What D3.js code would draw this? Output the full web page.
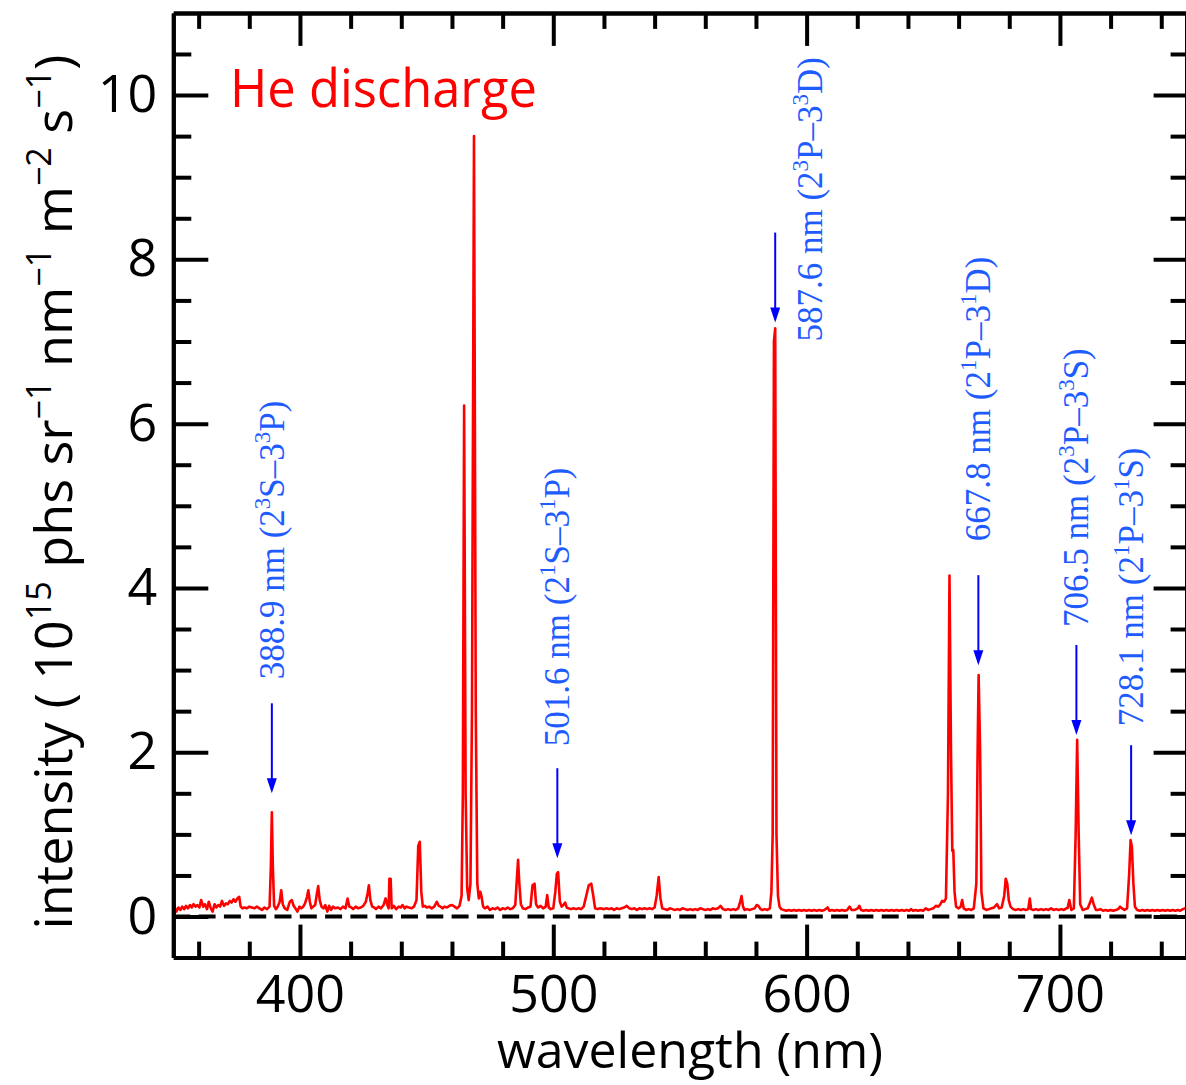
<!DOCTYPE html>
<html>
<head>
<meta charset="utf-8">
<script src="https://cdn.jsdelivr.net/npm/d3@7"></script>
<style>
  body { margin: 0; background: #fff; }
  svg { display: block; }
</style>
</head>
<body>
<div id="container"></div>
<script>
// Spectrum (nm, 10^15 phs sr^-1 nm^-1 m^-2 s^-1)
const wavelength = [
  350.0, 350.5, 351.2, 352.0, 352.8, 353.5, 354.3, 355.0, 355.8, 356.6, 357.3, 358.0, 358.8, 359.5, 360.3,
  361.0, 361.8, 362.5, 363.3, 364.0, 364.8, 365.5, 366.3, 367.0, 367.8, 368.5, 369.2, 370.0, 370.8, 371.5,
  372.3, 373.0, 373.8, 374.5, 375.3, 376.0, 376.6, 377.3, 378.0, 379.0, 380.0, 381.0, 382.0, 383.0, 384.0,
  385.0, 386.0, 387.0, 388.0, 388.5, 388.9, 389.3, 389.8, 390.5, 391.2, 392.0, 392.6, 393.2, 394.0, 395.0,
  396.0, 396.8, 397.5, 398.2, 399.0, 399.8, 400.5, 401.3, 402.0, 402.8, 403.3, 403.9, 404.5, 405.2, 406.0,
  406.7, 407.2, 407.8, 408.5, 409.3, 410.0, 410.8, 411.5, 412.3, 413.0, 414.0, 415.0, 416.0, 417.0, 418.0,
  418.8, 419.5, 420.3, 421.0, 422.0, 423.0, 424.0, 425.0, 426.0, 426.7, 427.2, 427.8, 428.5, 429.3, 430.0,
  431.0, 432.0, 433.0, 433.8, 434.5, 435.0, 435.3, 435.8, 436.2, 437.0, 438.0, 439.0, 439.8, 440.5, 441.3,
  442.0, 443.0, 444.0, 445.0, 446.0, 446.7, 447.3, 447.9, 448.5, 449.3, 450.0, 451.0, 452.0, 453.0, 454.0,
  454.8, 455.5, 456.3, 457.0, 458.0, 459.0, 460.0, 461.0, 462.0, 463.0, 463.8, 464.3, 464.8, 465.4, 466.0,
  466.6, 467.3, 467.9, 468.7, 469.4, 470.0, 470.6, 471.2, 471.7, 472.3, 473.0, 474.0, 475.0, 476.0, 477.0,
  478.0, 479.0, 480.0, 481.0, 482.0, 483.0, 484.0, 485.0, 485.6, 486.1, 486.6, 487.2, 488.0, 489.0, 490.0,
  491.0, 491.8, 492.6, 493.2, 494.0, 495.0, 496.0, 497.0, 497.6, 498.2, 499.0, 500.0, 500.8, 501.4, 501.9,
  502.6, 503.3, 504.0, 504.7, 505.3, 506.0, 507.0, 508.0, 509.0, 510.0, 511.0, 512.0, 513.0, 514.0, 515.0,
  515.8, 516.5, 517.5, 518.5, 520.0, 521.0, 522.0, 523.0, 524.0, 525.0, 526.0, 527.0, 528.0, 529.0, 530.0,
  531.0, 532.0, 533.0, 534.0, 535.0, 536.0, 537.0, 538.0, 539.0, 540.0, 540.8, 541.6, 542.3, 543.0, 544.0,
  545.0, 546.0, 547.0, 548.0, 549.0, 550.0, 551.0, 552.0, 553.0, 554.0, 555.0, 556.0, 557.0, 558.0, 559.0,
  560.0, 561.0, 562.0, 563.0, 564.0, 565.0, 566.0, 567.0, 568.0, 569.0, 570.0, 571.0, 572.0, 573.0, 573.8,
  574.3, 574.9, 575.5, 576.5, 577.5, 578.5, 579.5, 580.3, 581.0, 581.8, 582.5, 583.5, 584.5, 585.5, 586.1,
  586.6, 587.1, 587.6, 588.1, 588.7, 589.3, 590.0, 591.0, 592.0, 593.0, 594.0, 595.0, 596.0, 597.0, 598.0,
  599.0, 600.0, 601.0, 602.0, 603.0, 604.0, 605.0, 606.0, 607.0, 608.3, 609.0, 610.0, 611.0, 612.0, 613.0,
  614.0, 615.0, 616.0, 617.0, 617.8, 619.0, 620.2, 620.8, 621.5, 622.5, 623.5, 624.5, 625.5, 626.5, 627.5,
  628.5, 629.5, 630.5, 631.5, 632.5, 633.5, 634.5, 635.5, 636.5, 637.5, 638.5, 639.5, 640.5, 641.2, 642.0,
  643.0, 644.0, 645.0, 646.0, 647.0, 648.0, 649.0, 650.0, 651.0, 652.0, 652.8, 653.5, 654.3, 655.0, 655.8,
  656.4, 657.0, 657.5, 657.9, 658.4, 659.0, 660.0, 660.8, 661.4, 662.0, 663.0, 664.0, 665.0, 666.0, 667.0,
  667.5, 667.9, 668.5, 669.0, 669.8, 671.0, 672.0, 673.0, 674.0, 675.2, 676.0, 677.0, 678.0, 678.6, 679.2,
  679.8, 680.5, 681.5, 682.5, 683.5, 684.5, 685.5, 686.5, 687.5, 688.1, 688.6, 689.5, 690.5, 691.5, 692.5,
  693.5, 694.5, 695.5, 696.5, 697.5, 698.5, 699.5, 700.5, 701.5, 702.5, 703.0, 703.7, 704.5, 705.5, 706.2,
  706.8, 707.4, 708.0, 709.0, 710.0, 711.0, 712.0, 712.6, 713.3, 714.2, 715.0, 716.0, 717.0, 718.0, 719.0,
  720.0, 721.0, 722.0, 723.0, 723.7, 724.5, 725.5, 726.5, 727.3, 727.9, 728.4, 729.0, 729.6, 730.5, 731.5,
  732.5, 733.5, 734.5, 735.5, 736.5, 737.5, 738.5, 739.5, 740.5, 741.5, 742.5, 743.5, 744.5, 745.5, 746.5,
  747.5, 748.5, 749.5, 750.0
];
const intensity = [
  0.08, 0.12, 0.06, 0.11, 0.08, 0.12, 0.09, 0.13, 0.10, 0.14, 0.11, 0.15, 0.12, 0.14, 0.11,
  0.20, 0.12, 0.15, 0.09, 0.18, 0.10, 0.06, 0.15, 0.11, 0.14, 0.12, 0.19, 0.13, 0.16, 0.15,
  0.19, 0.17, 0.21, 0.18, 0.22, 0.24, 0.12, 0.10, 0.11, 0.10, 0.12, 0.11, 0.10, 0.12, 0.10,
  0.08, 0.11, 0.09, 0.12, 0.60, 1.27, 0.60, 0.13, 0.09, 0.12, 0.18, 0.32, 0.15, 0.10, 0.08,
  0.18, 0.20, 0.13, 0.10, 0.06, 0.12, 0.10, 0.12, 0.16, 0.24, 0.32, 0.18, 0.10, 0.12, 0.14,
  0.28, 0.37, 0.20, 0.12, 0.10, 0.14, 0.06, 0.13, 0.08, 0.12, 0.10, 0.11, 0.09, 0.12, 0.10,
  0.22, 0.12, 0.11, 0.09, 0.12, 0.10, 0.11, 0.13, 0.18, 0.28, 0.38, 0.20, 0.12, 0.11, 0.09,
  0.12, 0.10, 0.14, 0.22, 0.14, 0.10, 0.46, 0.46, 0.10, 0.13, 0.09, 0.12, 0.11, 0.14, 0.10,
  0.12, 0.11, 0.10, 0.12, 0.20, 0.86, 0.91, 0.30, 0.12, 0.13, 0.11, 0.12, 0.10, 0.12, 0.18,
  0.13, 0.12, 0.10, 0.12, 0.11, 0.13, 0.14, 0.12, 0.10, 0.13, 0.25, 1.50, 6.22, 1.50, 0.35,
  0.20, 0.40, 2.50, 9.50, 2.50, 0.40, 0.22, 0.30, 0.24, 0.12, 0.10, 0.12, 0.08, 0.10, 0.09,
  0.11, 0.08, 0.10, 0.09, 0.11, 0.09, 0.10, 0.14, 0.45, 0.69, 0.40, 0.15, 0.10, 0.09, 0.11,
  0.12, 0.38, 0.40, 0.15, 0.11, 0.13, 0.10, 0.12, 0.26, 0.11, 0.09, 0.10, 0.30, 0.52, 0.54,
  0.18, 0.12, 0.14, 0.17, 0.11, 0.10, 0.09, 0.10, 0.09, 0.10, 0.09, 0.12, 0.25, 0.38, 0.40,
  0.25, 0.10, 0.09, 0.10, 0.09, 0.10, 0.09, 0.10, 0.08, 0.10, 0.09, 0.10, 0.11, 0.13, 0.10,
  0.09, 0.10, 0.08, 0.10, 0.09, 0.10, 0.09, 0.10, 0.09, 0.11, 0.25, 0.48, 0.22, 0.10, 0.09,
  0.08, 0.10, 0.09, 0.08, 0.09, 0.08, 0.10, 0.09, 0.08, 0.09, 0.08, 0.09, 0.08, 0.10, 0.09,
  0.08, 0.09, 0.08, 0.10, 0.09, 0.10, 0.13, 0.09, 0.08, 0.09, 0.08, 0.09, 0.08, 0.10, 0.18,
  0.25, 0.12, 0.08, 0.09, 0.08, 0.09, 0.10, 0.14, 0.13, 0.09, 0.08, 0.09, 0.08, 0.10, 0.30,
  1.00, 7.00, 7.16, 1.00, 0.25, 0.12, 0.09, 0.08, 0.07, 0.08, 0.07, 0.08, 0.07, 0.08, 0.07,
  0.08, 0.07, 0.08, 0.07, 0.08, 0.07, 0.08, 0.07, 0.08, 0.11, 0.07, 0.08, 0.07, 0.08, 0.07,
  0.08, 0.07, 0.08, 0.12, 0.08, 0.08, 0.10, 0.13, 0.08, 0.07, 0.08, 0.07, 0.08, 0.07, 0.08,
  0.07, 0.08, 0.07, 0.08, 0.07, 0.08, 0.07, 0.08, 0.07, 0.08, 0.07, 0.08, 0.07, 0.09, 0.07,
  0.08, 0.07, 0.08, 0.07, 0.10, 0.08, 0.09, 0.10, 0.13, 0.12, 0.15, 0.19, 0.18, 0.22, 1.50,
  4.15, 2.00, 0.80, 0.81, 0.30, 0.12, 0.10, 0.12, 0.20, 0.10, 0.08, 0.09, 0.08, 0.10, 0.40,
  2.00, 2.94, 2.00, 0.30, 0.10, 0.08, 0.09, 0.10, 0.11, 0.15, 0.10, 0.11, 0.25, 0.46, 0.40,
  0.20, 0.12, 0.09, 0.08, 0.09, 0.08, 0.09, 0.08, 0.09, 0.22, 0.09, 0.08, 0.09, 0.08, 0.09,
  0.08, 0.09, 0.08, 0.10, 0.08, 0.09, 0.08, 0.09, 0.08, 0.10, 0.10, 0.20, 0.08, 0.10, 1.00,
  2.15, 1.00, 0.15, 0.08, 0.09, 0.10, 0.18, 0.23, 0.15, 0.08, 0.08, 0.09, 0.07, 0.08, 0.07,
  0.08, 0.07, 0.08, 0.09, 0.12, 0.10, 0.08, 0.10, 0.50, 0.93, 0.85, 0.40, 0.12, 0.08, 0.07,
  0.08, 0.07, 0.08, 0.07, 0.08, 0.07, 0.08, 0.07, 0.08, 0.07, 0.08, 0.07, 0.08, 0.07, 0.08,
  0.07, 0.09, 0.10, 0.10
];

// He I lines that are marked, and where their arrows point (intensity units)
const lineNm = [388.9, 501.6, 587.6, 667.8, 706.5, 728.1];
const lineLabel = [
  "388.9 nm (2^{3}S–3^{3}P)",
  "501.6 nm (2^{1}S–3^{1}P)",
  "587.6 nm (2^{3}P–3^{3}D)",
  "667.8 nm (2^{1}P–3^{1}D)",
  "706.5 nm (2^{3}P–3^{3}S)",
  "728.1 nm (2^{1}P–3^{1}S)"
];
const arrowTip = [1.50, 0.71, 7.23, 3.06, 2.21, 0.99];

const xDomain = [350, 750];
const yDomain = [-0.5, 11];
const xMajor = [400, 500, 600, 700];
const yMajor = [0, 2, 4, 6, 8, 10];

const chartWidth = 1186;
const chartHeight = 1085;
const SANS = "'Open Sans', 'DejaVu Sans', sans-serif";
const SERIF = "'Liberation Serif', 'DejaVu Serif', serif";
const LABEL_BLUE = "#1f5cff";

// label placement (pixels): text gap above arrow tail, extra x shift
const labelGap = [24, 22, 0, 34, 18, 19];
const labelShiftX = [0, 0, 35, 0, 0, 0];

const x = d3.scaleLinear().domain(xDomain).range([173.3, 1186.6]);
const y = d3.scaleLinear().domain(yDomain).range([957.6, 12.9]);

const svg = d3.select("#container")
    .append("svg")
    .attr("width", chartWidth)
    .attr("height", chartHeight);

const spectrum = wavelength.map((w, i) => ({ x: w, y: intensity[i] }));

// spectrum line
svg.append("path")
    .datum(spectrum)
    .attr("fill", "none")
    .attr("stroke", "#ff0000")
    .attr("stroke-width", 2.6)
    .attr("stroke-linejoin", "round")
    .attr("d", d3.line().x(d => x(d.x)).y(d => y(d.y)));

// dashed zero line
svg.append("line")
    .attr("x1", x(xDomain[0])).attr("x2", x(xDomain[1]))
    .attr("y1", y(0)).attr("y2", y(0))
    .attr("stroke", "#000")
    .attr("stroke-width", 4)
    .attr("stroke-dasharray", "17,8.3");

function styleAxis(g)
{
    g.select(".domain").attr("stroke-width", 4);
    g.selectAll(".tick line").attr("stroke-width", 4);
    g.selectAll("text")
        .filter(function() { return this.textContent === ""; })
        .remove();
    g.selectAll("text")
        .style("font-family", SANS)
        .style("font-size", "52px")
        .attr("fill", "#000");
}

const xMinor = d3.range(360, 750, 20).filter(v => !xMajor.includes(v));
const yMinor = d3.range(0.5, 11, 0.5).filter(v => !yMajor.includes(v));

// bottom axis
svg.append("g")
    .attr("transform", "translate(0," + y(yDomain[0]) + ")")
    .call(d3.axisBottom(x).tickValues(xMinor).tickSize(-16).tickSizeOuter(0).tickFormat(""))
    .call(styleAxis);
svg.append("g")
    .attr("transform", "translate(0," + y(yDomain[0]) + ")")
    .call(d3.axisBottom(x).tickValues(xMajor).tickSize(-33).tickSizeOuter(0).tickPadding(17).tickFormat(d3.format("d")))
    .call(styleAxis);

// top axis
svg.append("g")
    .attr("transform", "translate(0," + y(yDomain[1]) + ")")
    .call(d3.axisTop(x).tickValues(xMinor).tickSize(-16).tickSizeOuter(0).tickFormat(""))
    .call(styleAxis);
svg.append("g")
    .attr("transform", "translate(0," + y(yDomain[1]) + ")")
    .call(d3.axisTop(x).tickValues(xMajor).tickSize(-33).tickSizeOuter(0).tickFormat(""))
    .call(styleAxis);

// left axis
svg.append("g")
    .attr("transform", "translate(" + x(xDomain[0]) + ",0)")
    .call(d3.axisLeft(y).tickValues(yMinor).tickSize(-18).tickSizeOuter(0).tickFormat(""))
    .call(styleAxis);
svg.append("g")
    .attr("transform", "translate(" + x(xDomain[0]) + ",0)")
    .call(d3.axisLeft(y).tickValues(yMajor).tickSize(-35).tickSizeOuter(0).tickPadding(16).tickFormat(d3.format("d")))
    .call(styleAxis);

// right axis
svg.append("g")
    .attr("transform", "translate(" + x(xDomain[1]) + ",0)")
    .call(d3.axisRight(y).tickValues(yMinor).tickSize(-16).tickSizeOuter(0).tickFormat(""))
    .call(styleAxis);
svg.append("g")
    .attr("transform", "translate(" + x(xDomain[1]) + ",0)")
    .call(d3.axisRight(y).tickValues(yMajor).tickSize(-33).tickSizeOuter(0).tickFormat(""))
    .call(styleAxis);

// write "a^{b}" markup into a text element as tspans
function addRichText(textSel, str, fontPx, supPx)
{
    const shift = Math.round(fontPx * 0.4);
    let pending = 0;
    str.split(/(\^\{[^}]*\})/).forEach(p => {
        if (!p) return;
        if (p[0] === "^") {
            textSel.append("tspan")
                .attr("dy", -shift)
                .style("font-size", supPx + "px")
                .text(p.slice(2, -1));
            pending = shift;
        } else {
            textSel.append("tspan")
                .attr("dy", pending)
                .text(p);
            pending = 0;
        }
    });
}

// arrows + labels
const arrowLen = 90;
const labelPx = 35;
lineNm.forEach((nm, i) => {
    let ax = x(nm);
    let tipY = y(arrowTip[i]);
    let tailY = tipY - arrowLen;

    svg.append("line")
        .attr("x1", ax).attr("x2", ax)
        .attr("y1", tailY).attr("y2", tipY - 10)
        .attr("stroke", "#0000ff")
        .attr("stroke-width", 2);
    svg.append("path")
        .attr("d", "M" + (ax - 5) + "," + (tipY - 15) + "L" + (ax + 5) + "," + (tipY - 15) + "L" + ax + "," + tipY + "Z")
        .attr("fill", "#0000ff");

    let textBottom = labelShiftX[i] ? tipY + 19 : tailY - labelGap[i];
    let tx = ax + 12 + labelShiftX[i];
    let t = svg.append("text")
        .attr("transform", "translate(" + tx + "," + textBottom + ") rotate(-90)")
        .style("font-family", SERIF)
        .style("font-size", labelPx + "px")
        .attr("fill", LABEL_BLUE);
    addRichText(t, lineLabel[i], labelPx, 23);
});

// "He discharge"
svg.append("text")
    .attr("x", 230)
    .attr("y", 107)
    .attr("textLength", 307)
    .attr("lengthAdjust", "spacingAndGlyphs")
    .style("font-family", SANS)
    .style("font-size", "53px")
    .attr("fill", "#ff0000")
    .text("He discharge");

// x axis title
svg.append("text")
    .attr("x", 690)
    .attr("y", 1068)
    .attr("text-anchor", "middle")
    .style("font-family", SANS)
    .style("font-size", "50px")
    .text("wavelength (nm)");

// y axis title
const yTitle = svg.append("text")
    .attr("transform", "translate(72," + 492 + ") rotate(-90)")
    .attr("text-anchor", "middle")
    .style("font-family", SANS)
    .style("font-size", "52px");
addRichText(yTitle, "intensity ( 10^{15} phs sr^{−1} nm^{−1} m^{−2} s^{−1})", 52, 34);
yTitle.attr("textLength", 875).attr("lengthAdjust", "spacingAndGlyphs");
</script>
</body>
</html>
